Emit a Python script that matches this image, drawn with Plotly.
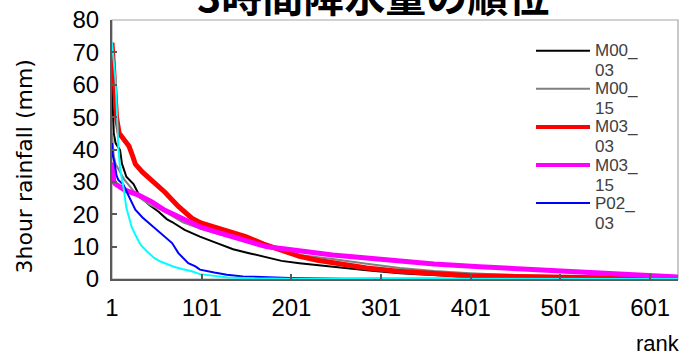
import plotly.graph_objects as go

# ---------------- data ----------------
title_text = "3時間降水量の順位"
y_title = "3hour rainfall (mm)"
x_title = "rank"
x_tickvals = [1, 101, 201, 301, 401, 501, 601]
y_tickvals = [0, 10, 20, 30, 40, 50, 60, 70, 80]

m00_03_rank = [1, 2, 3, 5, 10, 12, 17, 25, 32, 43, 53, 62, 68, 82, 99, 118, 136, 155, 173, 190, 210, 247, 285, 322, 360, 400, 450, 500, 560, 632]
m00_03_val = [60, 52, 45, 42, 39.8, 35.7, 31.6, 29.3, 25.5, 22.8, 20.8, 18.5, 17.6, 15.2, 13.1, 11.1, 9.2, 7.9, 6.6, 5.6, 4.9, 3.7, 2.7, 1.8, 1.2, 0.6, 0.3, 0.2, 0.1, 0.0]

m00_15_rank = [1, 3, 5, 15, 30, 43, 60, 80, 100, 136, 173, 210, 247, 285, 322, 360, 400, 450, 500, 560, 632]
m00_15_val = [45, 38, 35.5, 30.6, 25.5, 23.0, 20.8, 17.5, 15.5, 12.8, 9.8, 7.4, 6.2, 4.7, 3.4, 2.5, 1.8, 1.2, 0.8, 0.5, 0.3]

m03_03_rank = [1, 2, 4, 6, 9, 15, 20, 24, 27, 35, 45, 60, 75, 90, 100, 115, 130, 150, 170, 190, 210, 230, 250, 285, 320, 360, 400, 450, 500, 550, 590, 632]
m03_03_val = [73, 68, 60, 50, 45, 43, 41, 38, 35.5, 33, 30.6, 26.8, 22.4, 18.8, 17.3, 16.0, 14.6, 13.1, 10.8, 9.0, 7.0, 5.8, 4.8, 3.4, 2.4, 1.6, 1.0, 0.8, 0.5, 0.3, 0.2, 0.1]

m03_15_rank = [1, 3, 5, 15, 30, 45, 60, 75, 90, 100, 115, 136, 151, 173, 190, 210, 247, 285, 322, 360, 411, 470, 522, 580, 632]
m03_15_val = [36, 30, 29.3, 27.5, 26, 23.9, 21.2, 19.3, 17.4, 16.0, 14.7, 13.1, 11.6, 10.0, 9.4, 8.6, 7.4, 6.5, 5.4, 4.6, 3.8, 3.0, 2.3, 1.5, 0.6]

p02_03_rank = [1, 2, 4, 6, 8, 10, 14, 19, 27, 35, 42, 56, 68, 75, 86, 94, 99, 115, 129, 147, 170, 200, 260, 632]
p02_03_val = [42, 38, 35.7, 32, 30.6, 30, 29, 26, 21.4, 19, 17.3, 14.2, 11.1, 8, 4.9, 3.9, 2.9, 2.0, 1.3, 0.8, 0.5, 0.3, 0.1, 0.0]

cyan_rank = [1, 2, 3, 5, 6, 7, 8, 10, 12, 14, 17, 19, 23, 28, 33, 40, 48, 55, 62, 70, 80, 90, 99, 115, 130, 160, 200, 632]
cyan_val = [73, 70, 67, 61, 55, 46, 41, 34, 31, 28, 22, 20, 16, 13.1, 10.5, 8.5, 6.5, 5.4, 4.6, 3.8, 3.0, 2.4, 1.5, 0.9, 0.5, 0.2, 0.1, 0.0]

series_names = ["M00_03", "M00_15", "M03_03", "M03_15", "P02_03"]
legend_line1 = ["M00_", "M00_", "M03_", "M03_", "P02_"]
legend_line2 = ["03", "15", "03", "15", "03"]
series_colors = ["#000000", "#808080", "#ff0000", "#ff00ff", "#0000ff"]
series_widths = [2, 2, 5, 5, 2]

# ---------------- layout geometry ----------------
W, H = 684, 358
L, R, T, B = 112, 6, 20, 79
PW, PH = W - L - R, H - T - B


def px_x(x):
    return (x - L) / PW


def px_y(y):
    return (H - B - y) / PH


fig = go.Figure()

ranks = [m00_03_rank, m00_15_rank, m03_03_rank, m03_15_rank, p02_03_rank]
vals = [m00_03_val, m00_15_val, m03_03_val, m03_15_val, p02_03_val]
for nm, rk, vv, c, w in zip(series_names, ranks, vals, series_colors, series_widths):
    fig.add_trace(go.Scatter(x=rk, y=vv, mode="lines", name=nm,
                             line=dict(color=c, width=w), showlegend=False))
fig.add_trace(go.Scatter(x=cyan_rank, y=cyan_val, mode="lines", name="P02_15",
                         line=dict(color="#00ffff", width=2), showlegend=False))

axis_col = "#595959"
tick_font = dict(family="Liberation Sans, Arial", size=24, color="#000000")

fig.update_xaxes(range=[1, 632], tickvals=x_tickvals, ticktext=[str(v) for v in x_tickvals],
                 showgrid=False, zeroline=False, showline=True, linecolor=axis_col, linewidth=2,
                 ticks="inside", ticklen=5, tickcolor=axis_col, tickwidth=1.5,
                 tickfont=tick_font, ticklabelstandoff=6)
fig.update_yaxes(range=[0, 80], tickvals=y_tickvals,
                 showgrid=False, zeroline=False, showline=True, linecolor=axis_col, linewidth=2,
                 ticks="inside", ticklen=5, tickcolor=axis_col, tickwidth=1.5,
                 tickfont=tick_font, ticklabelstandoff=6)

shapes = [dict(type="rect", xref="paper", yref="paper", x0=0, y0=0, x1=1, y1=1,
               line=dict(color="#a6a6a6", width=1.2), layer="below")]
annotations = []

# custom legend
leg_font = dict(family="Liberation Sans, Arial", size=17, color="#404040")
leg_y0 = 50.7
leg_dy = 38.1
for i, (l1, l2, c, w) in enumerate(zip(legend_line1, legend_line2, series_colors, series_widths)):
    yy = leg_y0 + i * leg_dy
    shapes.append(dict(type="line", xref="paper", yref="paper",
                       x0=px_x(536), x1=px_x(590), y0=px_y(yy), y1=px_y(yy),
                       line=dict(color=c, width=min(w, 4))))
    annotations.append(dict(text=l1, xref="paper", yref="paper", x=px_x(593), y=px_y(yy),
                            xanchor="left", yanchor="middle", showarrow=False, font=leg_font))
    annotations.append(dict(text=l2, xref="paper", yref="paper", x=px_x(593), y=px_y(yy + 20),
                            xanchor="left", yanchor="middle", showarrow=False, font=leg_font))

# title (partly cut off at top, as in the reference)
annotations.append(dict(text=title_text, xref="paper", yref="paper", x=px_x(373), y=px_y(-6),
                        xanchor="center", yanchor="middle", showarrow=False,
                        font=dict(family="Noto Sans CJK JP", size=41, color="#000000", weight="bold")))
# y axis title
annotations.append(dict(text=y_title, xref="paper", yref="paper", x=px_x(24), y=px_y(166.5),
                        xanchor="center", yanchor="middle", showarrow=False, textangle=-90,
                        font=dict(family="DejaVu Sans", size=22, color="#000000")))
# x axis title
annotations.append(dict(text=x_title, xref="paper", yref="paper", x=px_x(658), y=px_y(343),
                        xanchor="center", yanchor="middle", showarrow=False,
                        font=dict(family="Liberation Sans, Arial", size=22, color="#000000")))

fig.update_layout(width=W, height=H, margin=dict(l=L, r=R, t=T, b=B),
                  paper_bgcolor="white", plot_bgcolor="white",
                  showlegend=False, shapes=shapes, annotations=annotations)

fig.write_html("out.html", config={"displayModeBar": False},
               post_script="document.body.style.margin='0';")
